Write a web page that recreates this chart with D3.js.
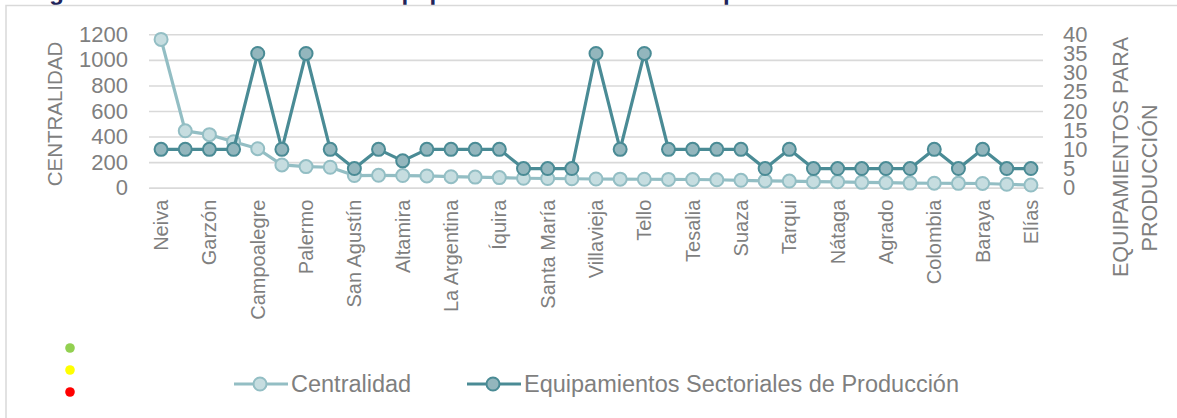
<!DOCTYPE html>
<html>
<head>
<meta charset="utf-8">
<script src="https://cdn.jsdelivr.net/npm/d3@7"></script>
<style>
  html, body { margin: 0; padding: 0; background: #ffffff; }
  svg { display: block; font-family: "Liberation Sans", Arial, sans-serif; }
</style>
</head>
<body>
<svg id="chart" width="1177" height="418"></svg>
<script>
// Municipios ordenados por centralidad
const municipios = [
  "Neiva", "Pitalito", "Garzón", "La Plata", "Campoalegre", "Gigante", "Palermo", "Rivera",
  "San Agustín", "Aipe", "Altamira", "Timaná", "La Argentina", "Acevedo", "Íquira", "Isnos",
  "Santa María", "Algeciras", "Villavieja", "Hobo", "Tello", "Yaguará", "Tesalia", "Guadalupe",
  "Suaza", "Pital", "Tarqui", "Teruel", "Nátaga", "Oporapa", "Agrado", "Saladoblanco",
  "Colombia", "Paicol", "Baraya", "Palestina", "Elías"
];

// Índice de centralidad (eje izquierdo)
const centralidad = [
  1160, 445, 415, 360, 305, 178, 165, 160,
  95, 97, 95, 92, 86, 83, 79, 74,
  72, 70, 68, 67, 66, 65, 64, 62,
  58, 53, 52, 47, 46, 42, 40, 36,
  35, 34, 33, 27, 21
];

// Equipamientos sectoriales de producción (eje derecho)
const equipamientos = [
  10, 10, 10, 10, 35, 10, 35, 10,
  5, 10, 7, 10, 10, 10, 10, 5,
  5, 5, 35, 10, 35, 10, 10, 10,
  10, 5, 10, 5, 5, 5, 5, 5,
  10, 5, 10, 5, 5
];

const ticksIzq = [0, 200, 400, 600, 800, 1000, 1200];
const ticksDer = [0, 5, 10, 15, 20, 25, 30, 35, 40];

const titulo = "Figura 12. Centralidad frente a equipamientos sectoriales de producción";
const tituloIzq = "CENTRALIDAD";
const tituloDer = ["EQUIPAMIENTOS PARA", "PRODUCCIÓN"];
const series = [
  { nombre: "Centralidad", datos: centralidad, eje: "izq" },
  { nombre: "Equipamientos Sectoriales de Producción", datos: equipamientos, eje: "der" }
];

const estilos = {
  "Centralidad": { linea: "#93bec4", relleno: "#c6dde0", borde: "#93bec4" },
  "Equipamientos Sectoriales de Producción": { linea: "#4a8b95", relleno: "#93b6bd", borde: "#4a8b95" }
};

const svg = d3.select("#chart");
const gris = "#7f7f7f";
const plot = { left: 149, right: 1043, top: 34.3, bottom: 187.7 };

// Título (queda cortado por el borde superior)
svg.append("text")
  .attr("x", 28).attr("y", 0)
  .attr("font-size", 24).attr("font-weight", "bold")
  .attr("fill", "#20245a")
  .text(titulo);

// Marco del gráfico
svg.append("rect")
  .attr("x", 6).attr("y", 5.5)
  .attr("width", 1200).attr("height", 430)
  .attr("fill", "none").attr("stroke", "#d9d9d9").attr("stroke-width", 1.5);

const x = d3.scaleBand().domain(municipios).range([plot.left, plot.right]);
const cx = d => x(d) + x.bandwidth() / 2;
const yIzq = d3.scaleLinear().domain([0, 1200]).range([plot.bottom, plot.top]);
const yDer = d3.scaleLinear().domain([0, 40]).range([plot.bottom, plot.top]);

// Líneas de cuadrícula
svg.append("g")
  .call(d3.axisLeft(yIzq).tickValues(ticksIzq).tickSize(-(plot.right - plot.left)).tickFormat(""))
  .attr("transform", `translate(${plot.left},0)`)
  .call(g => g.select(".domain").remove())
  .call(g => g.selectAll("line").attr("stroke", "#d9d9d9").attr("stroke-width", 1.6));

// Eje izquierdo
svg.append("g")
  .attr("transform", "translate(128,0)")
  .call(d3.axisLeft(yIzq).tickValues(ticksIzq).tickFormat(d3.format("d")).tickSize(0).tickPadding(0))
  .call(g => g.select(".domain").remove())
  .call(g => g.selectAll("text")
    .attr("font-family", "Liberation Sans, Arial, sans-serif")
    .attr("font-size", 22).attr("fill", gris));

// Eje derecho
svg.append("g")
  .attr("transform", "translate(1063,0)")
  .call(d3.axisRight(yDer).tickValues(ticksDer).tickFormat(d3.format("d")).tickSize(0).tickPadding(0))
  .call(g => g.select(".domain").remove())
  .call(g => g.selectAll("text")
    .attr("font-family", "Liberation Sans, Arial, sans-serif")
    .attr("font-size", 22).attr("fill", gris));

// Eje X: se rotulan municipios alternos
const ejeX = svg.append("g")
  .attr("transform", `translate(0,${plot.bottom})`)
  .call(d3.axisBottom(x)
    .tickValues(municipios.filter((d, i) => i % 2 === 0))
    .tickSize(0).tickPadding(0));
ejeX.select(".domain").attr("stroke", "#d9d9d9").attr("stroke-width", 1.6);
ejeX.selectAll("text")
  .attr("font-family", "Liberation Sans, Arial, sans-serif")
  .attr("font-size", 20).attr("fill", gris)
  .attr("text-anchor", "end")
  .attr("transform", "rotate(-90)")
  .attr("x", -12).attr("y", 0).attr("dy", "0.35em");

// Títulos de ejes
svg.append("text")
  .attr("transform", "translate(62,114) rotate(-90)")
  .attr("text-anchor", "middle")
  .attr("font-size", 20.5).attr("fill", gris)
  .text(tituloIzq);

svg.append("text")
  .attr("transform", "translate(1128,157) rotate(-90)")
  .attr("text-anchor", "middle")
  .attr("font-size", 21.5).attr("fill", gris)
  .text(tituloDer[0]);
svg.append("text")
  .attr("transform", "translate(1157,178) rotate(-90)")
  .attr("text-anchor", "middle")
  .attr("font-size", 21.5).attr("fill", gris)
  .text(tituloDer[1]);

// Series
series.forEach(s => {
  const y = s.eje === "izq" ? yIzq : yDer;
  const st = estilos[s.nombre];
  const g = svg.append("g");
  g.append("path")
    .datum(s.datos)
    .attr("fill", "none")
    .attr("stroke", st.linea).attr("stroke-width", 3.2)
    .attr("stroke-linejoin", "round")
    .attr("d", d3.line().x((d, i) => cx(municipios[i])).y(d => y(d)));
  g.selectAll("circle")
    .data(s.datos)
    .join("circle")
    .attr("cx", (d, i) => cx(municipios[i]))
    .attr("cy", d => y(d))
    .attr("r", 6.5)
    .attr("fill", st.relleno)
    .attr("stroke", st.borde).attr("stroke-width", 2);
});

// Leyenda
const leyenda = [
  { s: series[0], x: 234 },
  { s: series[1], x: 467 }
];
leyenda.forEach(l => {
  const st = estilos[l.s.nombre];
  const g = svg.append("g").attr("transform", `translate(${l.x},384)`);
  g.append("line").attr("x1", 0).attr("x2", 54).attr("y1", 0).attr("y2", 0)
    .attr("stroke", st.linea).attr("stroke-width", 3.2);
  g.append("circle").attr("cx", 26).attr("cy", 0).attr("r", 6.5)
    .attr("fill", st.relleno).attr("stroke", st.borde).attr("stroke-width", 2);
  g.append("text").attr("x", 57).attr("y", 0).attr("dy", "0.35em")
    .attr("font-size", 23.5).attr("fill", gris).text(l.s.nombre);
});

// Indicadores de color
const semaforo = ["#92d050", "#ffff00", "#ff0000"];
svg.append("g").selectAll("circle")
  .data(semaforo)
  .join("circle")
  .attr("cx", 70)
  .attr("cy", (d, i) => 348 + i * 22)
  .attr("r", 4.8)
  .attr("fill", d => d);
</script>
</body>
</html>
